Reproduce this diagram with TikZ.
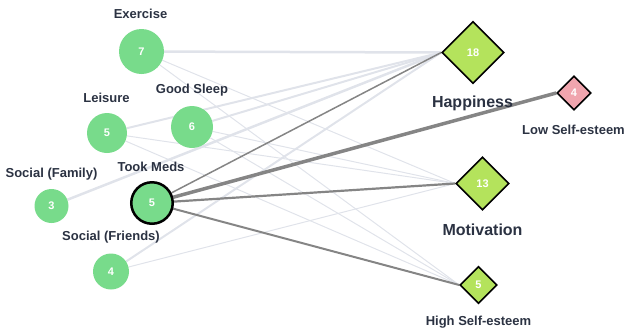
\documentclass[tikz,border=0pt]{standalone}
\usepackage{fontspec}
\setmainfont{Liberation Sans}
\usetikzlibrary{shapes.geometric,backgrounds}
\definecolor{cgreen}{HTML}{78DB8B}
\definecolor{dgreen}{HTML}{B4E35C}
\definecolor{dpink}{HTML}{F0A5AE}
\definecolor{labc}{HTML}{2B3242}
\definecolor{lightc}{HTML}{E0E3EA}
\definecolor{darkc}{HTML}{858585}
\begin{document}
\begin{tikzpicture}[x=1pt,y=-1pt,
  circ/.style={circle,fill=cgreen,inner sep=0pt,minimum size=#1,text=white,font=\bfseries\fontsize{11}{12}\selectfont},
  dia/.style={diamond,aspect=1,draw=black,line width=1.6pt,inner sep=0pt,minimum width=#1,minimum height=#1,fill=dgreen,text=white,font=\bfseries\fontsize{11}{12}\selectfont},
  lab/.style={text=labc,font=\bfseries\fontsize{13}{15}\selectfont,inner sep=0pt},
  biglab/.style={text=labc,font=\bfseries\fontsize{16}{18}\selectfont,inner sep=0pt},
  ledge/.style={draw=lightc,line width=#1},
  dedge/.style={draw=darkc,line width=#1}]
\useasboundingbox (0,0) rectangle (626,333);
% circles
\node[circ=45pt] (ex) at (141.5,51.5) {7};
\node[circ=40pt] (lei) at (107,133) {5};
\node[circ=42pt] (gs) at (192,127) {6};
\node[circ=34pt] (sf) at (51.5,206) {3};
\node[circ=41.5pt,draw=black,line width=2.5pt] (tm) at (152,203) {5};
\node[circ=36pt] (sfr) at (111,271.5) {4};
% diamonds
\node[dia=62pt] (hap) at (473,52.5) {18};
\node[dia=34pt,fill=dpink] (lse) at (574,93) {4};
\node[dia=53pt] (mot) at (482.5,183.5) {13};
\node[dia=37pt] (hse) at (478.5,285) {5};
% labels
\node[lab] (lex) at (140.5,14) {Exercise};
\node[lab] (llei) at (106.5,97.5) {Leisure};
\node[lab] (lgs) at (192,90.5) {Good Sleep};
\node[lab] (lsf) at (51.5,174) {Social (Family)};
\node[lab] (ltm) at (151,167) {Took Meds};
\node[lab] (lsfr) at (111,237.5) {Social (Friends)};
\node[biglab] (lhap) at (472.5,103) {Happiness};
\node[lab] (llse) at (573.5,129.5) {Low Self-esteem};
\node[biglab] (lmot) at (482.5,230) {Motivation};
\node[lab] (lhse) at (478.5,322.5) {High Self-esteem};
\begin{pgfonlayer}{background}
% light edges
\draw[ledge=2.5pt] (ex) -- (hap.west);
\draw[ledge=1pt] (ex) -- (mot.west);
\draw[ledge=1pt] (ex) -- (hse.west);
\draw[ledge=2pt] (lei) -- (hap.west);
\draw[ledge=1pt] (lei) -- (mot.west);
\draw[ledge=1pt] (lei) -- (hse.west);
\draw[ledge=2pt] (gs) -- (hap.west);
\draw[ledge=1pt] (gs) -- (mot.west);
\draw[ledge=1pt] (gs) -- (hse.west);
\draw[ledge=2.5pt] (sf) -- (hap.west);
\draw[ledge=2pt] (sfr) -- (hap.west);
\draw[ledge=1pt] (sfr) -- (mot.west);
% dark edges
\draw[dedge=1.5pt] (tm) -- (hap.west);
\draw[dedge=3.5pt] (tm) -- (lse.west);
\draw[dedge=2.2pt] (tm) -- (mot.west);
\draw[dedge=2pt] (tm) -- (hse.west);
\end{pgfonlayer}
\end{tikzpicture}
\end{document}
